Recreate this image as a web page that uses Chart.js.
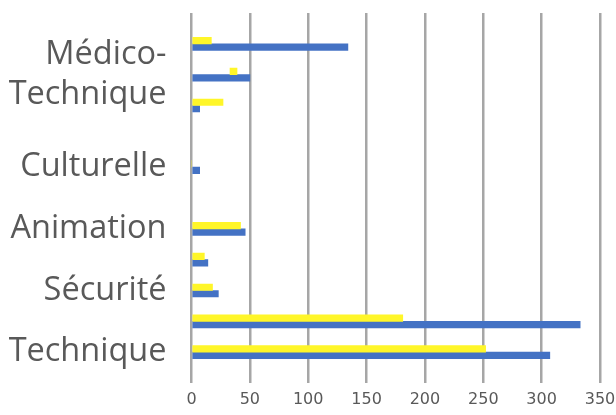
<!DOCTYPE html>
<html>
<head>
<meta charset="utf-8">
<script src="https://cdn.jsdelivr.net/npm/chart.js@4"></script>
<style>
  html, body { margin: 0; padding: 0; background: #ffffff; }
  #wrap { width: 616px; height: 415px; }
</style>
</head>
<body>
<div id="wrap"><canvas id="c" width="616" height="415"></canvas></div>
<script>
// Categories, top to bottom (empty strings = categories whose labels are not shown / empty slots)
const categories = ['', '', ['Médico-', 'Technique'], '', '', 'Culturelle', '', 'Animation', '', 'Sécurité', '', 'Technique', ''];
// Yellow series (floating bar given as [start, end])
const seriesYellow = [null, 17, [33, 39], 27, null, 0, null, 42, 11, 18, 181, 252, null];
// Blue series
const seriesBlue = [null, 134, 50, 7, null, 7, null, 46, 14, 23, 333, 307, null];
// Value axis ticks
const xTicks = [0, 50, 100, 150, 200, 250, 300, 350];

const ctx = document.getElementById('c').getContext('2d');
new Chart(ctx, {
  type: 'bar',
  data: {
    labels: categories,
    datasets: [
      { label: 'Série 2', data: seriesYellow, backgroundColor: '#FFF629', borderWidth: 0, barThickness: 6.5 },
      { label: 'Série 1', data: seriesBlue, backgroundColor: '#4472C4', borderWidth: 0, barThickness: 6.5 }
    ]
  },
  options: {
    indexAxis: 'y',
    responsive: false,
    animation: false,
    devicePixelRatio: 1,
    layout: { padding: { top: 13, right: 16, bottom: 4, left: 0 } },
    plugins: { legend: { display: false }, tooltip: { enabled: false } },
    scales: {
      x: {
        type: 'linear',
        min: xTicks[0],
        max: xTicks[xTicks.length - 1],
        afterBuildTicks: (s) => { s.ticks = xTicks.map(v => ({ value: v })); },
        ticks: { color: '#595959', font: { family: 'DejaVu Sans', size: 16 }, padding: 7, maxRotation: 0 },
        grid: { color: '#A6A6A6', lineWidth: 2.5, drawTicks: false },
        border: { display: false },
        afterFit: (s) => { s.paddingLeft = 0; s.paddingRight = 0; s.height = 28; }
      },
      y: {
        type: 'category',
        offset: false,
        grid: { display: false, drawTicks: false },
        border: { display: false },
        ticks: { color: '#595959', font: { family: 'Open Sans', size: 32.5, lineHeight: 1.25 }, padding: 25, autoSkip: false },
        afterFit: (s) => { s.width = 191.5; s.paddingTop = 0; s.paddingBottom = 0; }
      }
    }
  }
});
</script>
</body>
</html>
